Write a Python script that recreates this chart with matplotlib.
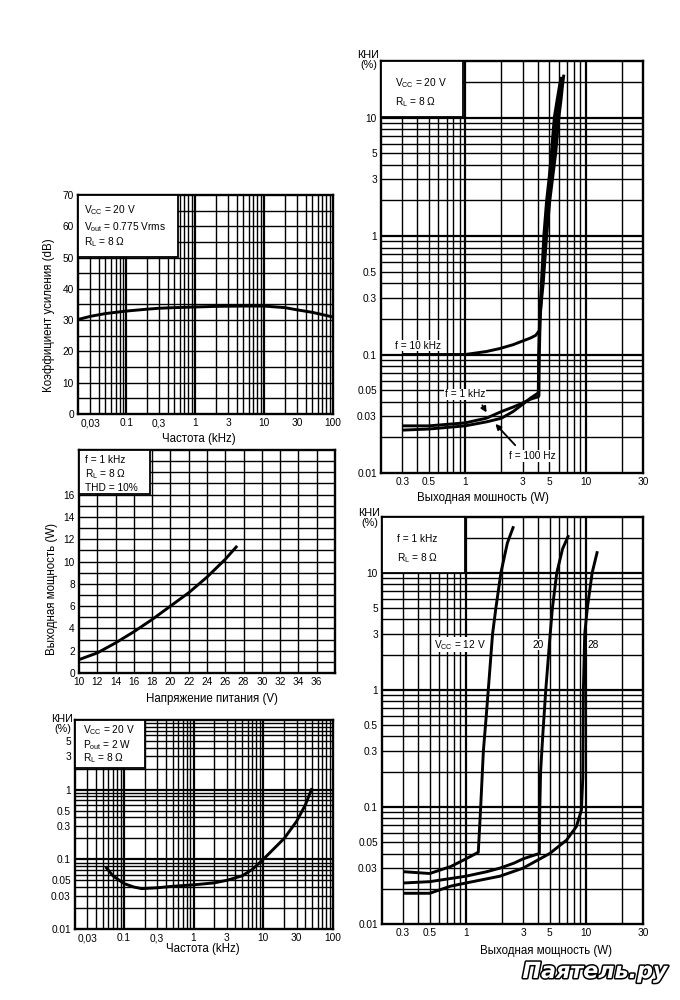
import matplotlib
matplotlib.use("Agg")
import matplotlib.pyplot as plt
import matplotlib.patheffects as pe
import numpy as np
from matplotlib.patches import Rectangle

plt.rcParams["font.family"] = ["Liberation Sans", "DejaVu Sans"]
plt.rcParams["mathtext.fontset"] = "custom"
plt.rcParams["mathtext.rm"] = "Liberation Sans"
plt.rcParams["mathtext.it"] = "Liberation Sans"

# gain vs frequency
gain_freq = [0.02, 0.03, 0.05, 0.1, 0.2, 0.3, 0.5, 1, 2, 5, 10, 20, 30, 50, 100]
gain_db = [30.2, 31.2, 32.1, 32.9, 33.5, 33.8, 34.0, 34.2, 34.4, 34.5, 34.5, 34.0, 33.3, 32.5, 31.0]

# output power vs supply voltage
pout_vcc = [10, 12, 14, 16, 18, 20, 22, 24, 26, 27.3]
pout_w = [1.2, 1.8, 2.7, 3.7, 4.8, 6.0, 7.2, 8.6, 10.2, 11.4]

# THD vs frequency
thdf_freq = [0.055, 0.07, 0.1, 0.14, 0.18, 0.3, 0.5, 1, 2, 3, 5, 7, 10, 15, 20, 30, 40, 50]
thdf_pct = [0.078, 0.058, 0.045, 0.040, 0.038, 0.039, 0.041, 0.043, 0.046, 0.050, 0.058, 0.072,
            0.10, 0.15, 0.20, 0.35, 0.60, 1.05]

# THD vs output power, three frequencies
f10k_p = [0.3, 0.5, 1.0, 1.5, 1.92, 2.5, 3.0, 3.5, 3.85, 4.05, 4.15, 4.18, 4.25, 4.45, 4.75,
          5.05, 5.35, 5.65, 6.0, 6.25, 6.45, 6.6]
f10k_thd = [0.1, 0.1, 0.1, 0.106, 0.112, 0.121, 0.13, 0.138, 0.145, 0.155, 0.16, 0.2, 0.25, 0.4,
            1.0, 2.0, 3.2, 5, 10, 14, 19, 23]
f1k_p = [0.3, 0.5, 1.0, 1.5, 2.0, 2.5, 3.0, 3.5, 4.05, 4.1, 4.13, 4.2, 4.35, 4.6, 4.9, 5.15,
         5.4, 5.75, 6.05, 6.3, 6.45]
f1k_thd = [0.025, 0.025, 0.0265, 0.029, 0.033, 0.036, 0.039, 0.042, 0.044, 0.045, 0.1, 0.2,
           0.4, 1.0, 2.0, 3.2, 5, 10, 14, 19, 22]
f100_p = [0.3, 0.5, 1.0, 1.5, 2.0, 2.5, 3.0, 3.5, 4.0, 4.05, 4.08, 4.15, 4.3, 4.5, 4.75, 5.0,
          5.2, 5.5, 5.8, 6.1, 6.3]
f100_thd = [0.023, 0.0235, 0.025, 0.027, 0.029, 0.033, 0.038, 0.043, 0.047, 0.048, 0.1, 0.2,
            0.4, 1.0, 2.0, 3.2, 5, 10, 14, 19, 22]

# THD vs output power, three supply voltages
v12_p = [0.3, 0.5, 0.75, 1.0, 1.27, 1.33, 1.4, 1.48, 1.56, 1.67, 1.78, 1.96, 2.22, 2.5]
v12_thd = [0.028, 0.027, 0.031, 0.036, 0.041, 0.1, 0.3, 0.6, 1.2, 3, 5, 10, 18, 25]
v20_p = [0.3, 0.5, 1.0, 1.5, 1.92, 2.5, 3.0, 3.5, 4.1, 4.14, 4.2, 4.4, 4.64, 5.05, 5.27, 5.73,
         6.4, 7.2]
v20_thd = [0.0224, 0.023, 0.0256, 0.028, 0.030, 0.033, 0.036, 0.038, 0.040, 0.1, 0.2, 0.44, 1,
           3, 5, 10, 16, 21]
v28_p = [0.3, 0.5, 0.74, 1.0, 1.92, 3.0, 5.0, 6.9, 8.35, 9.2, 9.45, 9.5, 9.55, 9.8, 10.3, 11.3,
         12.5]
v28_thd = [0.0183, 0.0183, 0.021, 0.0224, 0.0256, 0.030, 0.040, 0.052, 0.068, 0.094, 0.18, 0.44,
           1, 3, 5, 10, 15.3]

FREQ_TICKS = [0.03, 0.1, 0.3, 1, 3, 10, 30, 100]
FREQ_LABELS = ["0,03", "0.1", "0,3", "1", "3", "10", "30", "100"]
THD_TICKS = [0.01, 0.03, 0.05, 0.1, 0.3, 0.5, 1, 3, 5, 10]
THD_LABELS = ["0.01", "0.03", "0.05", "0.1", "0.3", "0.5", "1", "3", "5", "10"]
POWER_TICKS = [0.3, 0.5, 1, 3, 5, 10, 30]
POWER_LABELS = ["0.3", "0.5", "1", "3", "5", "10", "30"]

W, H = 680, 1000


def rect(left, top, right, bottom):
    return [left / W, 1 - bottom / H, (right - left) / W, (bottom - top) / H]


def log_lines(lo, hi):
    out = []
    for d in range(int(np.floor(np.log10(lo))) - 1, int(np.ceil(np.log10(hi))) + 1):
        for m in range(1, 10):
            v = round(m * 10.0 ** d, 6)
            if lo * 1.0001 < v < hi * 0.9999:
                out.append((v, m == 1))
    return out


def draw_grid(ax, xlines, ylines):
    for v, major in xlines:
        ax.axvline(v, color="black", lw=1.6 if major else 1.0, zorder=1)
    for v, major in ylines:
        ax.axhline(v, color="black", lw=1.6 if major else 1.0, zorder=1)


def style(ax):
    for s in ax.spines.values():
        s.set_linewidth(1.7)
    ax.tick_params(length=0, labelsize=7.3, pad=3)


def info_box(ax, w, h, lines, x0, ys):
    ax.add_patch(Rectangle((0, 1 - h), w, h, transform=ax.transAxes, facecolor="white",
                           edgecolor="black", lw=1.3, zorder=3))
    for txt, y in zip(lines, ys):
        ax.text(x0, y, txt, transform=ax.transAxes, fontsize=7.3, va="center", ha="left", zorder=4)


def thd_label(fig, x_right, y_top):
    fig.text(x_right / W, 1 - y_top / H, "КНИ", fontsize=7.8, ha="right", va="center")
    fig.text((x_right - 2) / W, 1 - (y_top + 10) / H, "(%)", fontsize=7.8, ha="right", va="center")


fig = plt.figure(figsize=(6.8, 10), dpi=100)
fig.patch.set_facecolor("white")
curve = dict(color="black", lw=2.1, zorder=5, solid_capstyle="butt")

# panel 1: gain
ax1 = fig.add_axes(rect(78, 195, 333, 414))
ax1.set_xscale("log")
ax1.set_xlim(0.02, 100)
ax1.set_ylim(0, 70)
draw_grid(ax1, log_lines(0.02, 100), [(v, False) for v in range(5, 70, 5)])
ax1.plot(gain_freq, gain_db, **curve)
ax1.set_xticks(FREQ_TICKS, FREQ_LABELS)
ax1.set_xticks([], minor=True)
ax1.set_yticks(range(0, 71, 10))
style(ax1)
info_box(ax1, 0.392, 0.283,
         [r"V$_{\mathrm{CC}}$ = 20 V", r"V$_{\mathrm{out}}$ = 0.775 Vrms", r"R$_{\mathrm{L}}$ = 8 Ω"],
         0.025, [0.932, 0.854, 0.785])
ax1.set_ylabel("Коэффициент усиления (dB)", fontsize=8.3)
ax1.yaxis.set_label_coords(-0.09, 0.45)
ax1.set_xlabel("Частота (kHz)", fontsize=8.3)
ax1.xaxis.set_label_coords(0.475, -0.085)

# panel 2: output power vs supply
ax2 = fig.add_axes(rect(79, 450, 335, 673))
ax2.set_xlim(10, 38)
ax2.set_ylim(0, 20)
draw_grid(ax2, [(v, False) for v in range(12, 38, 2)], [(v, False) for v in range(1, 20)])
ax2.plot(pout_vcc, pout_w, **curve)
ax2.set_xticks(range(10, 37, 2))
ax2.set_yticks(range(0, 17, 2))
style(ax2)
info_box(ax2, 0.277, 0.197, ["f = 1 kHz", r"R$_{\mathrm{L}}$ = 8 Ω", "THD = 10%"],
         0.025, [0.955, 0.892, 0.83])
ax2.set_ylabel("Выходная мощность (W)", fontsize=8.3)
ax2.yaxis.set_label_coords(-0.082, 0.377)
ax2.set_xlabel("Напряжение питания (V)", fontsize=8.3)
ax2.xaxis.set_label_coords(0.52, -0.09)

# panel 3: THD vs frequency
ax3 = fig.add_axes(rect(75, 720, 333, 929))
ax3.set_xscale("log")
ax3.set_yscale("log")
ax3.set_xlim(0.02, 100)
ax3.set_ylim(0.01, 10)
draw_grid(ax3, log_lines(0.02, 100), log_lines(0.01, 10))
ax3.plot(thdf_freq, thdf_pct, **curve)
ax3.set_xticks(FREQ_TICKS, FREQ_LABELS)
ax3.set_yticks(THD_TICKS[:-1], THD_LABELS[:-1])
ax3.set_xticks([], minor=True)
ax3.set_yticks([], minor=True)
style(ax3)
info_box(ax3, 0.271, 0.23,
         [r"V$_{\mathrm{CC}}$ = 20 V", r"P$_{\mathrm{out}}$ = 2 W", r"R$_{\mathrm{L}}$ = 8 Ω"],
         0.03, [0.952, 0.88, 0.818])
ax3.set_xlabel("Частота (kHz)", fontsize=8.3)
ax3.xaxis.set_label_coords(0.496, -0.065)
thd_label(fig, 73, 719)

# panel 4: THD vs output power, frequencies
ax4 = fig.add_axes(rect(381, 61, 643, 473))
ax4.set_xscale("log")
ax4.set_yscale("log")
ax4.set_xlim(0.2, 30)
ax4.set_ylim(0.01, 30)
draw_grid(ax4, log_lines(0.2, 30), log_lines(0.01, 30))
for p, t in [(f10k_p, f10k_thd), (f1k_p, f1k_thd), (f100_p, f100_thd)]:
    ax4.plot(p, t, **curve)
ax4.set_xticks(POWER_TICKS, POWER_LABELS)
ax4.set_yticks(THD_TICKS, THD_LABELS)
ax4.set_xticks([], minor=True)
ax4.set_yticks([], minor=True)
style(ax4)
info_box(ax4, 0.313, 0.136, [r"V$_{\mathrm{CC}}$ = 20 V", r"R$_{\mathrm{L}}$ = 8 Ω"],
         0.055, [0.947, 0.90])
ax4.text(0.26, 0.119, "f = 10 kHz", fontsize=7.3, ha="left", va="center", zorder=6,
         bbox=dict(facecolor="white", edgecolor="none", pad=0.5))
ax4.text(1.0, 0.046, "f = 1 kHz", fontsize=7.3, ha="center", va="center", zorder=6,
         bbox=dict(facecolor="white", edgecolor="none", pad=0.5))
ax4.text(3.6, 0.0139, "f = 100 Hz", fontsize=7.3, ha="center", va="center", zorder=6,
         bbox=dict(facecolor="white", edgecolor="none", pad=0.5))
arrow = dict(arrowstyle="-|>", color="black", lw=1.3, mutation_scale=8)
ax4.annotate("", xy=(1.55, 0.031), xytext=(1.35, 0.039), arrowprops=arrow, zorder=6)
ax4.annotate("", xy=(1.72, 0.027), xytext=(2.7, 0.0165), arrowprops=arrow, zorder=6)
ax4.set_xlabel("Выходная мошность (W)", fontsize=8.3)
ax4.xaxis.set_label_coords(0.39, -0.046)
thd_label(fig, 379, 55)

# panel 5: THD vs output power, supply voltages
ax5 = fig.add_axes(rect(382, 517, 643, 924))
ax5.set_xscale("log")
ax5.set_yscale("log")
ax5.set_xlim(0.2, 30)
ax5.set_ylim(0.01, 30)
draw_grid(ax5, log_lines(0.2, 30), log_lines(0.01, 30))
for p, t in [(v12_p, v12_thd), (v20_p, v20_thd), (v28_p, v28_thd)]:
    ax5.plot(p, t, **curve)
ax5.set_xticks(POWER_TICKS, POWER_LABELS)
ax5.set_yticks(THD_TICKS, THD_LABELS)
ax5.set_xticks([], minor=True)
ax5.set_yticks([], minor=True)
style(ax5)
info_box(ax5, 0.318, 0.138, ["f = 1 kHz", r"R$_{\mathrm{L}}$ = 8 Ω"], 0.057, [0.946, 0.90])
for txt, x in [(r"V$_{\mathrm{CC}}$ = 12 V", 0.89), ("20", 3.98), ("28", 11.6)]:
    ax5.text(x, 2.43, txt, fontsize=7.3, ha="center", va="center", zorder=6,
             bbox=dict(facecolor="white", edgecolor="none", pad=0.5))
ax5.set_xlabel("Выходная мощность (W)", fontsize=8.3)
ax5.xaxis.set_label_coords(0.63, -0.052)
thd_label(fig, 380, 513)

# watermark
fig.text(0.875, 0.028, "Паятель.ру", fontsize=16, style="italic", weight="bold",
         family="DejaVu Sans", color="white", ha="center", va="center",
         path_effects=[pe.withStroke(linewidth=2.2, foreground="black")])

fig.savefig("out.png", dpi=100, facecolor="white")
